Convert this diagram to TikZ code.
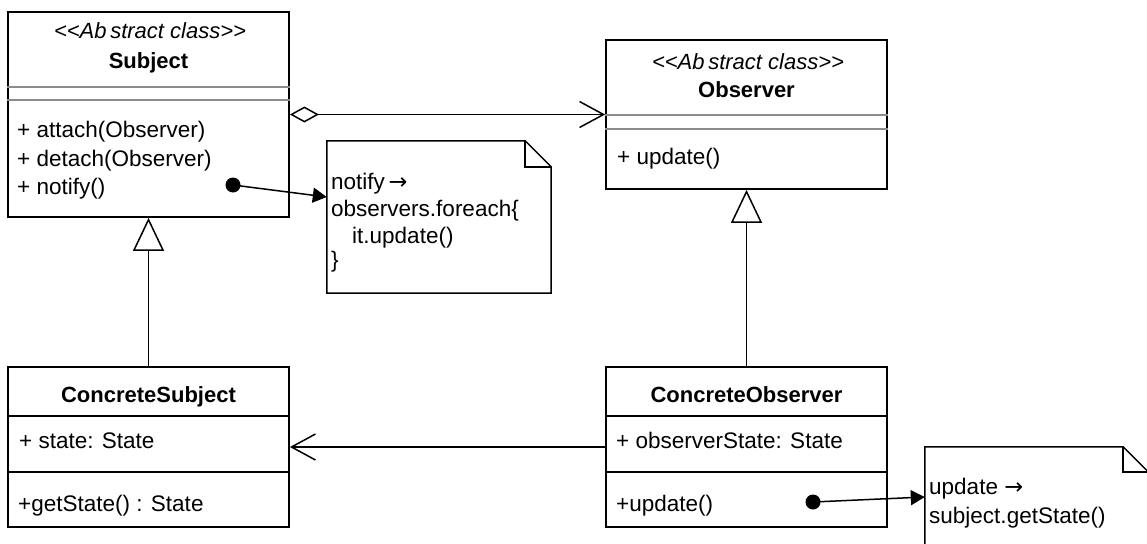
\documentclass[tikz,border=0pt]{standalone}
\usepackage{fontspec}
\setmainfont{Liberation Sans}[Ligatures=TeXOff]
\newfontfamily\arrowfont{DejaVu Sans}
\usetikzlibrary{arrows.meta,calc}
\newcommand{\rarr}{{\arrowfont →}}

\begin{document}
\begin{tikzpicture}[x=1pt,y=-1pt,
  classbox/.style={draw, line width=1.8pt, rectangle, minimum width=281pt, inner sep=0pt},
  sepgray/.style={draw={rgb,255:red,140;green,140;blue,140}, line width=1.3pt},
  sepblack/.style={draw=black, line width=1.7pt},
  body/.style={font=\fontsize{22.5}{27}\selectfont, anchor=base west, inner sep=0pt},
  stereo/.style={font=\fontsize{22}{26}\selectfont\itshape, anchor=base, inner sep=0pt},
  cname/.style={font=\fontsize{22}{26}\selectfont\bfseries, anchor=base, inner sep=0pt},
  notebox/.style={rectangle, inner sep=0pt},
  noteline/.style={line width=1.5pt, line join=miter},
  dotnode/.style={circle, fill=black, inner sep=0pt, minimum size=15pt},
  link/.style={line width=1.5pt},
  notearrow/.style={link, -{Triangle[length=14pt,width=15pt]}},
  inherit/.style={link, -{Triangle[open,length=33pt,width=31pt]}},
  navig/.style={link, -{Straight Barb[length=24pt,width=26pt]}},
  aggreg/.style={link, {Diamond[open,length=29pt,width=16pt]}-{Straight Barb[length=24pt,width=26pt]}}
]
\useasboundingbox (0,0) rectangle (1147,543);
\clip (0,0) rectangle (1147,543);

% class boxes
\node[classbox, minimum height=205pt] (subj)  at (148.5,114.5) {};
\node[classbox, minimum height=149pt] (obs)   at (746.5,114.5) {};
\node[classbox, minimum height=160pt] (csubj) at (148.5,447) {};
\node[classbox, minimum height=160pt] (cobs)  at (746.5,447) {};

% Subject compartments
\draw[sepgray] (subj.west |- 0,87) -- (subj.east |- 0,87);
\draw[sepgray] (subj.west |- 0,100) -- (subj.east |- 0,100);
\node[stereo] (subjst) at (150,39) {<<Ab\,stract class>>};
\node[cname] (subjnm) at (148.5,68) {Subject};
\node[body] (subjm1) at (17,137) {+ attach(Observer)};
\node[body] (subjm2) at (17,166) {+ detach(Observer)};
\node[body] (subjm3) at (17,194) {+ notify()};

% Observer compartments
\draw[sepgray] (obs.west |- 0,115) -- (obs.east |- 0,115);
\draw[sepgray] (obs.west |- 0,129) -- (obs.east |- 0,129);
\node[stereo] (obsst) at (748,69) {<<Ab\,stract class>>};
\node[cname] (obsnm) at (746.5,97) {Observer};
\node[body] (obsm1) at (617,164) {+ update()};

% ConcreteSubject compartments
\draw[sepblack] (csubj.west |- 0,416) -- (csubj.east |- 0,416);
\draw[sepblack] (csubj.west |- 0,472) -- (csubj.east |- 0,472);
\node[cname] (csubjnm) at (148.5,402) {ConcreteSubject};
\node[body] (csubja1) at (19,448) {+ state: State};
\node[body] (csubjm1) at (18,511) {+getState() : State};

% ConcreteObserver compartments
\draw[sepblack] (cobs.west |- 0,416) -- (cobs.east |- 0,416);
\draw[sepblack] (cobs.west |- 0,472) -- (cobs.east |- 0,472);
\node[cname] (cobsnm) at (746.5,402) {ConcreteObserver};
\node[body] (cobsa1) at (616,448) {+ observerState: State};
\node[body] (cobsm1) at (616,511) {+update()};

% notes
\node[notebox, minimum width=224pt, minimum height=152pt] (n1) at (439,217) {};
\draw[noteline] (n1.south west) -- (n1.north west) -- ($(n1.north east)+(-26,0)$)
  -- ($(n1.north east)+(0,26)$) -- (n1.south east) -- cycle;
\draw[noteline] ($(n1.north east)+(-26,0)$) |- ($(n1.north east)+(0,26)$);
\node[body] (n1t1) at (331,189) {notify\,\rarr};
\node[body] (n1t2) at (331,216) {observers.foreach\{};
\node[body] (n1t3) at (352,243) {it.update()};
\node[body] (n1t4) at (331,267) {\}};

\node[notebox, minimum width=223pt, minimum height=173pt] (n2) at (1036.5,533.5) {};
\draw[noteline] (n2.south west) -- (n2.north west) -- ($(n2.north east)+(-25,0)$)
  -- ($(n2.north east)+(0,25)$) -- (n2.south east) -- cycle;
\draw[noteline] ($(n2.north east)+(-25,0)$) |- ($(n2.north east)+(0,25)$);
\node[body] (n2t1) at (929,494) {update \rarr};
\node[body] (n2t2) at (929,523) {subject.getState()};

% relations
\draw[aggreg] (subj.east) -- (obs.west);
\draw[inherit] (csubj.north) -- (subj.south);
\draw[inherit] (cobs.north) -- (obs.south);
\draw[navig] (cobs.west) -- (csubj.east);

% note anchors
\node[dotnode] (d1) at (233,185) {};
\node[dotnode] (d2) at (813,502) {};
\draw[notearrow] (d1.center) -- (n1.west |- 0,197);
\draw[notearrow] (d2.center) -- (n2.west |- 0,497);
\end{tikzpicture}
\end{document}
